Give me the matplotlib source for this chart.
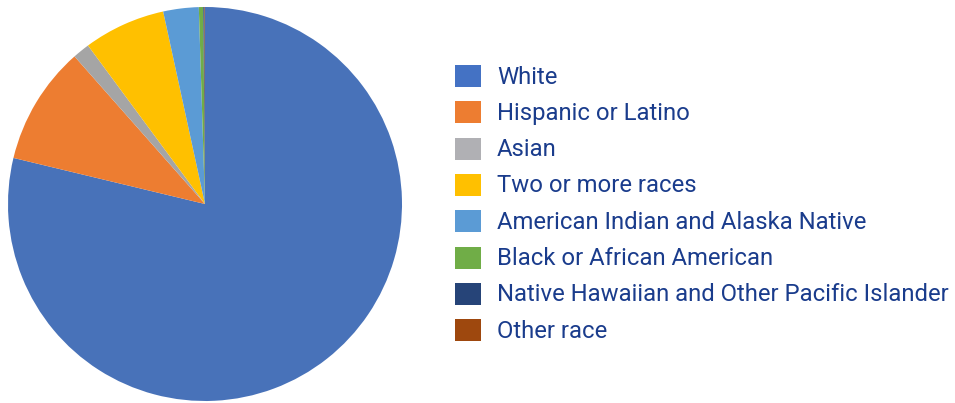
import matplotlib
matplotlib.use("Agg")
import matplotlib.pyplot as plt
from matplotlib.patches import Rectangle

categories = ["White", "Hispanic or Latino", "Asian", "Two or more races",
              "American Indian and Alaska Native", "Black or African American",
              "Native Hawaiian and Other Pacific Islander", "Other race"]
values = [78.6, 9.7, 1.4, 6.7, 2.9, 0.36, 0.1, 0.04]
colors = ["#4872B9", "#ED7D31", "#A5A5A5", "#FFC000", "#5B9BD5", "#70AD47", "#264478", "#9E480E"]
legend_colors = ["#4472C4", "#ED7D31", "#B0B0B4", "#FFC000", "#5B9BD5", "#70AD47", "#264478", "#9E480E"]

plt.rcParams['font.family'] = ['Roboto', 'DejaVu Sans']
W, H = 955, 403
fig = plt.figure(figsize=(W/100, H/100), dpi=100)
cx, cy, r = 205, 204, 197
ax = fig.add_axes([(cx - r)/W, (H - cy - r)/H, 2*r/W, 2*r/H])
ax.pie(values, colors=colors, startangle=90, counterclock=False, radius=1,
       wedgeprops=dict(linewidth=0))
ax.set_xlim(-1, 1)
ax.set_ylim(-1, 1)
ax.set_aspect('equal')
ax.axis('off')

y0, dy = 76, 36.3
for i, (lab, c) in enumerate(zip(categories, legend_colors)):
    yc = y0 + i*dy
    fig.patches.append(Rectangle((455/W, (H - yc - 11)/H), 26/W, 22/H,
                                 transform=fig.transFigure, facecolor=c, edgecolor='none'))
    fig.text(497/W, (H - yc - 1)/H, lab, color="#1A3C8C", fontsize=17.2, va='center', ha='left')

fig.savefig("out.png", dpi=100)
